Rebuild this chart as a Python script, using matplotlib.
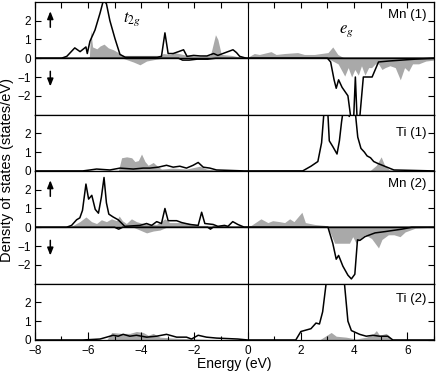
import numpy as np
import matplotlib
matplotlib.use("Agg")
from matplotlib import pyplot as plt
from matplotlib.ticker import MultipleLocator

plt.rcParams['font.family'] = ['Liberation Sans', 'DejaVu Sans']
plt.rcParams['mathtext.fontset'] = 'stix'

# ---- data (energy in eV, DOS in states/eV) ----
# Mn (1)
mn1_up_line_e = [-8, -7.0, -6.8, -6.5, -6.3, -6.08, -6.03, -5.93, -5.74, -5.55, -5.42, -5.31, -5.18,
                 -4.99, -4.8, -4.6, -4.0, -3.4, -3.24, -3.11, -2.99, -2.8, -2.6, -2.41, -2.28, -2.03,
                 -1.78, -1.53, -1.28, -1.12, -0.93, -0.74, -0.55, -0.42, -0.3, -0.05, 7]
mn1_up_line = [0, 0, 0.1, 0.55, 0.35, 0.6, 0.25, 0.9, 1.5, 2.4, 3.1, 2.9, 2.0,
               1.05, 0.2, 0.05, 0.05, 0.05, 0.1, 1.35, 0.25, 0.25, 0.35, 0.45, 0.1, 0.15,
               0.12, 0.12, 0.25, 0.15, 0.25, 0.35, 0.45, 0.3, 0.1, 0, 0]
mn1_up_fill_e = [-8, -6.1, -5.95, -5.9, -5.83, -5.67, -5.55, -5.4, -5.24, -5.05, -4.86, -4.67, -4.0,
                 -3.3, -3.17, -2.92, -2.74, -2.28, -1.78, -1.4, -1.21, -1.12, -0.99, -0.6, -0.25, 0,
                 0.06, 0.25, 0.44, 0.88, 1.07, 1.38, 1.88, 2.13, 2.51, 2.76, 3.02, 3.2, 3.39, 3.58, 3.8, 7]
mn1_up_fill = [0, 0, 0.1, 1.5, 0.6, 0.5, 0.65, 0.75, 0.55, 0.45, 0.3, 0.15, 0.15,
               0.15, 0.25, 0.2, 0.3, 0.15, 0.1, 0.15, 1.25, 1.0, 0.2, 0.15, 0.05, 0.05,
               0.1, 0.25, 0.2, 0.35, 0.2, 0.25, 0.3, 0.2, 0.2, 0.25, 0.3, 0.6, 0.2, 0.05, 0, 0]
mn1_dn_line_e = [-8, -2.6, -2.45, -2.2, -1.9, -1.5, -1.2, 3.0, 3.12, 3.25, 3.33, 3.42, 3.55, 3.77, 3.9,
                 3.98, 4.05, 4.12, 4.2, 4.35, 4.41, 4.68, 4.92, 5.3, 5.8, 6.3, 7]
mn1_dn_line = [0, 0, -0.1, -0.1, -0.05, -0.05, 0, 0, -0.2, -1.15, -1.6, -1.15, -1.55, -2.0, -3.4,
               -3.4, -1.0, -3.4, -3.4, -1.0, -1.0, -1.0, -0.2, -0.15, -0.1, -0.05, 0]
mn1_dn_fill_e = [-8, -4.7, -4.3, -4.05, -3.8, -3.43, -3.2, 3.0, 3.4, 3.65, 3.78, 3.91, 4.03, 4.16, 4.28,
                 4.41, 4.55, 4.66, 4.8, 4.92, 5.05, 5.17, 5.35, 5.55, 5.74, 5.9, 6.05, 6.2, 6.43, 6.7, 7]
mn1_dn_fill = [0, 0, -0.2, -0.35, -0.15, -0.05, 0, 0, -0.3, -0.95, -0.5, -1.0, -0.6, -0.9, -0.4,
               -0.9, -0.5, -0.5, -0.3, -0.3, -0.6, -0.5, -0.4, -0.5, -1.15, -0.5, -0.7, -0.3, -0.3, -0.15, -0.1]

# Ti (1)
ti1_line_e = [-8, -6.2, -5.93, -5.68, -5.18, -4.8, -4.3, -3.93, -3.68, -3.36, -3.05, -2.8, -2.55, -2.3,
              -2.05, -1.86, -1.67, -1.42, -1.17, -0.12, 2.07, 2.38, 2.64, 2.78, 2.89, 3.0, 3.07, 3.2,
              3.36, 3.45, 3.53, 3.6, 3.7, 3.82, 3.88, 3.95, 4.02, 4.07, 4.14, 4.26, 4.39, 4.49, 4.62,
              4.74, 4.89, 5.15, 5.5, 7]
ti1_line = [0, 0, 0.05, 0.1, 0.05, 0.15, 0.1, 0.15, 0.15, 0.2, 0.3, 0.2, 0.25, 0.15,
            0.3, 0.45, 0.2, 0.15, 0.05, 0, 0, 0.25, 0.5, 1.5, 3.5, 3.5, 1.6, 1.3,
            0.9, 1.6, 2.6, 3.3, 3.4, 2.9, 3.5, 3.0, 3.5, 2.8, 1.8, 1.2, 1.0, 0.8, 0.7,
            0.5, 0.4, 0.25, 0.05, 0]
ti1_fill_e = [-8, -4.86, -4.74, -4.55, -4.36, -4.24, -4.11, -3.99, -3.86, -3.74, -3.55, -3.43, -3.24,
              -2.8, -2.3, -1.8, -1.55, -1.2, -0.5, 4.59, 4.84, 5.02, 5.15, 5.34, 7]
ti1_fill = [0, 0, 0.7, 0.75, 0.7, 0.5, 0.55, 0.9, 0.5, 0.3, 0.45, 0.3, 0.1,
            0.15, 0.1, 0.25, 0.1, 0.05, 0, 0, 0.3, 0.75, 0.3, 0.05, 0]

# Mn (2)
mn2_up_line_e = [-8, -6.81, -6.62, -6.43, -6.31, -6.21, -6.08, -5.98, -5.86, -5.73, -5.61, -5.5, -5.4,
                 -5.31, -5.22, -5.06, -4.87, -4.62, -4.05, -3.8, -3.61, -3.42, -3.24, -3.11, -2.99,
                 -2.67, -2.48, -2.17, -1.86, -1.73, -1.61, -1.3, -1.12, -0.87, -0.74, -0.56, -0.37,
                 -0.12, 7]
mn2_up_line = [0, 0, 0.1, 0.4, 0.5, 0.9, 2.3, 1.5, 1.7, 0.95, 0.75, 1.6, 2.65,
               1.3, 0.7, 0.55, 0.4, 0.05, 0.1, 0.2, 0.1, 0.3, 0.2, 1.0, 0.35,
               0.35, 0.25, 0.15, 0.1, 0.8, 0.2, 0.15, 0.05, 0.1, 0.05, 0.3, 0.15,
               0, 0]
mn2_up_fill_e = [-8, -6.69, -6.31, -6.08, -5.87, -5.68, -5.5, -5.31, -5.12, -4.93, -4.83, -4.71, -4.56,
                 -4.37, -4.18, -3.93, -3.43, -3.11, -2.93, -2.3, -1.8, -1.3, -0.5, 0.13, 0.5, 0.76,
                 0.94, 1.2, 1.39, 1.58, 1.74, 2.04, 2.17, 2.52, 2.89, 3.14, 7]
mn2_up_fill = [0, 0, 0.3, 0.55, 0.3, 0.2, 0.4, 0.3, 0.45, 0.35, 0.6, 0.35, 0.2,
               0.45, 0.3, 0.2, 0.15, 0.45, 0.25, 0.25, 0.1, 0.1, 0.05, 0.1, 0.45, 0.25,
               0.35, 0.3, 0.25, 0.45, 0.3, 0.8, 0.25, 0.15, 0.1, 0, 0]
mn2_dn_line_e = [-8, -5.0, -4.85, -4.7, -1.5, -1.4, -1.3, 3.02, 3.2, 3.33, 3.42, 3.58, 3.77, 3.9, 4.03,
                 4.13, 4.22, 4.41, 4.79, 5.17, 5.8, 6.17, 7]
mn2_dn_line = [0, 0, -0.1, 0, 0, -0.1, 0, 0, -0.85, -1.7, -1.5, -2.07, -2.55, -2.75, -2.5,
               -0.67, -0.7, -0.5, -0.3, -0.23, -0.1, 0, 0]
mn2_dn_fill_e = [-8, -4.3, -4.05, -3.8, -3.55, -3.3, -3.05, 3.02, 3.27, 3.83, 3.95, 4.08, 4.22, 4.41,
                 4.66, 4.92, 5.05, 5.29, 5.5, 5.73, 5.92, 6.3, 7]
mn2_dn_fill = [0, 0, -0.15, -0.3, -0.2, -0.15, 0, 0, -0.85, -0.85, -0.5, -0.85, -0.6, -0.4,
               -0.6, -1.1, -0.65, -0.4, -0.4, -0.5, -0.25, -0.05, 0]

# Ti (2)
ti2_line_e = [-8, -6.2, -5.93, -5.55, -5.3, -5.06, -4.87, -4.68, -4.43, -4.18, -3.8, -3.43, -3.05, -2.67,
              -2.3, -2.11, -1.86, -1.55, -1.17, -0.37, 0, 1.81, 2.0, 2.38, 2.57, 2.7, 2.82, 2.95, 3.07,
              3.45, 3.64, 3.77, 3.9, 4.21, 4.46, 4.71, 4.96, 5.27, 5.46, 7]
ti2_line = [0, 0, 0.02, 0.05, 0.15, 0.25, 0.2, 0.3, 0.2, 0.25, 0.15, 0.2, 0.3, 0.15,
            0.15, 0.05, 0.25, 0.15, 0.1, 0.05, 0, 0, 0.45, 0.6, 0.9, 0.85, 1.5, 3.0, 3.6,
            3.6, 3.0, 1.0, 0.5, 0.3, 0.2, 0.25, 0.2, 0.2, 0, 0]
ti2_fill_e = [-8, -5.3, -5.11, -4.74, -4.43, -4.18, -3.93, -3.74, -3.55, -3.3, -2.8, -1.8, -1.0,
              2.7, 3.14, 3.33, 3.7, 4.08, 4.46, 4.71, 4.84, 4.96, 5.21, 5.46, 7]
ti2_fill = [0, 0, 0.4, 0.35, 0.35, 0.45, 0.4, 0.25, 0.35, 0.15, 0.1, 0.05, 0,
            0, 0.4, 0.2, 0.15, 0.05, 0.15, 0.3, 0.5, 0.25, 0.35, 0, 0]

panel_names = ['Mn (1)', 'Ti (1)', 'Mn (2)', 'Ti (2)']
label_y = [2.3, 2.0, 2.3, 2.2]

gray = '#a9a9a9'

fig = plt.figure(figsize=(4.36, 3.74), dpi=100)
gs = fig.add_gridspec(4, 1, height_ratios=[2, 1, 2, 1], hspace=0,
                      left=0.080, right=0.995, top=0.995, bottom=0.091)
axes = [fig.add_subplot(gs[i]) for i in range(4)]

panels = [
    [(mn1_up_fill_e, mn1_up_fill), (mn1_dn_fill_e, mn1_dn_fill),
     (mn1_up_line_e, mn1_up_line), (mn1_dn_line_e, mn1_dn_line)],
    [(ti1_fill_e, ti1_fill), (ti1_line_e, ti1_line)],
    [(mn2_up_fill_e, mn2_up_fill), (mn2_dn_fill_e, mn2_dn_fill),
     (mn2_up_line_e, mn2_up_line), (mn2_dn_line_e, mn2_dn_line)],
    [(ti2_fill_e, ti2_fill), (ti2_line_e, ti2_line)],
]

arrow = dict(arrowstyle='-|>,head_length=0.5,head_width=0.2', color='k', lw=1.1, mutation_scale=9)

for i, ax in enumerate(axes):
    is_mn = (i % 2 == 0)
    data = panels[i]
    nfill = 2 if is_mn else 1
    for e, d in data[:nfill]:
        ax.fill_between(e, 0, d, color=gray, lw=0, zorder=1)
    for e, d in data[nfill:]:
        ax.plot(e, d, color='k', lw=1.1, zorder=3)
    ax.axvline(0, color='k', lw=0.8, zorder=2)
    if is_mn:
        ax.axhline(0, color='k', lw=1.0, zorder=2)
        ax.set_ylim(-3, 3)
        ax.set_yticks([-2, -1, 0, 1, 2])
        ax.annotate('', xy=(-7.42, 2.65), xytext=(-7.42, 1.5), arrowprops=arrow)
        ax.annotate('', xy=(-7.42, -1.65), xytext=(-7.42, -0.55), arrowprops=arrow)
    else:
        ax.set_ylim(0, 3)
        ax.set_yticks([0, 1, 2])
    ax.set_xlim(-8, 7)
    ax.text(6.72, label_y[i], panel_names[i], ha='right', va='center', fontsize=9.5)
    ax.tick_params(axis='y', direction='in', left=True, right=True, length=4,
                   width=0.8, labelsize=8.5, pad=3)
    for sp in ax.spines.values():
        sp.set_linewidth(0.9)
    if i == 3:
        ax.xaxis.set_major_locator(MultipleLocator(2))
        ax.xaxis.set_minor_locator(MultipleLocator(1))
        ax.tick_params(axis='x', which='major', direction='in', length=6, width=0.8,
                       labelsize=8.5, top=False, pad=3.5)
        ax.tick_params(axis='x', which='minor', direction='in', length=3, width=0.8, top=False)
        ax.set_xlabel('Energy (eV)', fontsize=10, labelpad=0)
    elif i == 0:
        ax.xaxis.set_major_locator(MultipleLocator(1))
        ax.tick_params(axis='x', direction='in', length=4, width=0.8, top=True,
                       bottom=False, labelbottom=False)
    else:
        ax.tick_params(axis='x', bottom=False, labelbottom=False)

axes[0].text(-4.7, 2.1, r'$t_{2g}$', fontsize=12, ha='left', va='center')
axes[0].text(3.45, 1.45, r'$e_g$', fontsize=12, ha='left', va='center')

fig.text(0.016, 0.545, 'Density of states (states/eV)', rotation=90,
         ha='center', va='center', fontsize=10.5)

fig.savefig('out.png', dpi=100)
